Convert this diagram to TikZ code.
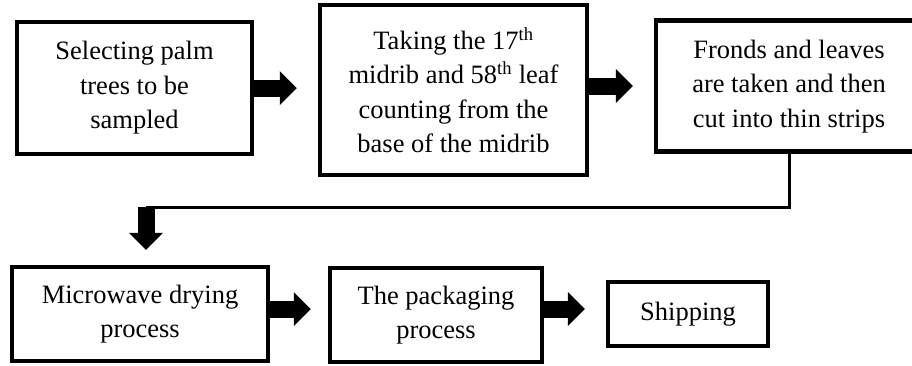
\documentclass[tikz,border=0pt]{standalone}
\usepackage{fontspec}
\setmainfont{Liberation Serif}
\usetikzlibrary{arrows.meta}

\begin{document}
\begin{tikzpicture}[%
        x = 1pt,
        y = -1pt,
        line cap = butt,
        stagebox/.style = {%
            draw = black,
            line width = 4.5pt,
            align = center,
            inner sep = 0pt,
            font = \fontsize{26.5}{34.5}\selectfont
        },
        fatarrow/.style = {%
            draw = black,
            line width = 17pt,
            -{Triangle[width = 34pt, length = 17pt, line width = 0pt]},
            shorten > = 21pt
        },
        thinline/.style = {%
            draw = black,
            line width = 3pt
        }
    ]
        \useasboundingbox (0, 0) rectangle (912, 365);
        \node (select) at (134.5, 88) [stagebox, minimum width = 235pt, minimum height = 132pt]
            {Selecting palm\\trees to be\\sampled};
        \node (midrib) at (453.5, 90) [stagebox, minimum width = 267pt, minimum height = 170pt]
            {Taking the 17\textsuperscript{th}\\midrib and 58\textsuperscript{th} leaf\\counting from the\\base of the midrib};
        % box runs past the right margin, text kept left of centre
        \node (strips) at (801, 86) [stagebox, minimum width = 290pt, minimum height = 131pt]
            {\begin{tabular}{@{}c@{\hspace{24pt}}}Fronds and leaves\\are taken and then\\cut into thin strips\end{tabular}};
        \node (drying) at (140, 314) [stagebox, minimum width = 256pt, minimum height = 94pt]
            {Microwave drying\\process};
        \node (packing) at (436, 315) [stagebox, minimum width = 212pt, minimum height = 94pt]
            {The packaging\\process};
        \node (shipping) at (688, 314) [stagebox, minimum width = 160pt, minimum height = 64pt]
            {Shipping};
        \coordinate (bend) at (146, 207);
        \draw[fatarrow] (select.east) to (select.east -| midrib.west);
        \draw[fatarrow] (midrib.east |- strips.west) to (strips.west);
        \draw[thinline] ([xshift = -12pt]strips.south) |- (bend);
        \draw[fatarrow, shorten > = 15pt] (bend) to (bend |- drying.north);
        \draw[fatarrow, shorten > = 17pt] ([yshift = 5pt]drying.east) to ([yshift = 5pt]drying.east -| packing.west);
        \draw[fatarrow] ([yshift = 6pt]packing.east) to ([yshift = 6pt]packing.east -| shipping.west);
\end{tikzpicture}
\end{document}
